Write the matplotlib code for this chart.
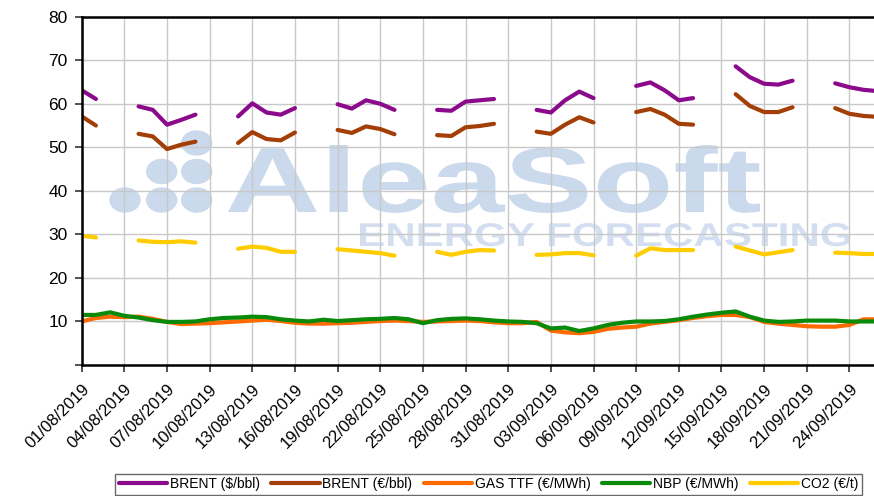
import numpy as np
import pandas as pd
import matplotlib
matplotlib.use("Agg")
import matplotlib.pyplot as plt
from matplotlib.patches import Ellipse, PathPatch
from matplotlib.textpath import TextPath
from matplotlib.font_manager import FontProperties
from matplotlib.transforms import Affine2D
from matplotlib.ticker import FuncFormatter

plt.rcParams['font.family'] = ['Liberation Sans', 'DejaVu Sans']

# datos diarios 01/08/2019 - 26/09/2019
dias = pd.date_range('2019-08-01', '2019-09-26', freq='D')
laborables = dias[dias.dayofweek < 5]

brent_usd = [63.1, 61.1, 59.4, 58.6, 55.2, 56.3, 57.5, 57.1, 60.1, 58.0, 57.5, 59.0,
             59.9, 58.9, 60.8, 60.0, 58.6, 58.6, 58.4, 60.5, 60.8, 61.1, 58.6, 58.0,
             60.8, 62.8, 61.3, 64.1, 64.9, 63.1, 60.8, 61.3, 68.6, 66.1, 64.6, 64.4,
             65.3, 64.7, 63.8, 63.2, 62.9]
brent_eur = [57.1, 55.0, 53.1, 52.5, 49.6, 50.6, 51.3, 51.0, 53.5, 51.9, 51.6, 53.4,
             54.0, 53.3, 54.8, 54.2, 53.0, 52.8, 52.6, 54.6, 54.9, 55.4, 53.6, 53.1,
             55.2, 56.9, 55.7, 58.1, 58.8, 57.5, 55.4, 55.2, 62.2, 59.5, 58.1, 58.1,
             59.2, 59.0, 57.7, 57.2, 57.0]
co2 = [29.7, 29.3, 28.6, 28.3, 28.2, 28.4, 28.1, 26.7, 27.2, 26.9, 26.0, 26.0,
       26.6, 26.3, 26.0, 25.7, 25.1, 26.0, 25.3, 26.0, 26.4, 26.3, 25.3, 25.4,
       25.7, 25.7, 25.2, 25.1, 26.8, 26.4, 26.4, 26.4, 27.2, 26.3, 25.4, 25.9,
       26.4, 25.8, 25.7, 25.5, 25.5]

gas_ttf = [10.0, 10.8, 11.1, 11.0, 11.1, 10.6, 9.9, 9.4, 9.5, 9.6, 9.8, 10.0, 10.2,
           10.4, 10.1, 9.7, 9.5, 9.5, 9.6, 9.7, 9.9, 10.1, 10.2, 10.1, 9.9, 10.0,
           10.1, 10.2, 10.1, 9.8, 9.6,
           9.6, 9.9, 7.9, 7.5, 7.3, 7.6, 8.3, 8.6, 8.8, 9.5, 9.9, 10.3, 10.8, 11.2,
           11.5, 11.5, 11.0, 9.9, 9.5, 9.2, 8.9, 8.8, 8.8, 9.2, 10.5, 10.5]
nbp = [11.5, 11.5, 12.1, 11.3, 10.9, 10.3, 9.9, 9.9, 10.0, 10.5, 10.8, 10.9, 11.1,
       11.0, 10.5, 10.2, 10.0, 10.4, 10.1, 10.3, 10.5, 10.6, 10.8, 10.5, 9.6, 10.3,
       10.6, 10.7, 10.5, 10.2, 10.0,
       9.9, 9.6, 8.4, 8.6, 7.8, 8.4, 9.2, 9.7, 10.0, 10.0, 10.1, 10.5, 11.1, 11.6,
       12.0, 12.3, 11.1, 10.2, 9.9, 10.0, 10.2, 10.2, 10.2, 10.0, 10.0, 10.0]

df = pd.DataFrame({'gas_ttf': gas_ttf, 'nbp': nbp}, index=dias)
df_lab = pd.DataFrame({'brent_usd': brent_usd, 'brent_eur': brent_eur, 'co2': co2},
                      index=laborables).reindex(dias)

W, H = 874, 496
fig = plt.figure(figsize=(W / 100, H / 100), dpi=100)


# marca de agua (texto ajustado a una caja en pixeles)
def marca(texto, x0, x1, ytop, ybase, color):
    fp = FontProperties(family='Liberation Sans', weight='bold')
    tp = TextPath((0, 0), texto, size=100, prop=fp)
    ext = tp.get_extents()
    sx = (x1 - x0) / ext.width
    sy = (ybase - ytop) / ext.y1
    tr = Affine2D().translate(-ext.x0, 0).scale(sx / W, sy / H).translate(x0 / W, 1 - ybase / H)
    fig.patches.append(PathPatch(tp, transform=tr + fig.transFigure,
                                 facecolor=color, edgecolor='none', zorder=-2))


wm = '#cbd9ec'
marca('AleaSoft', 228, 760, 145, 212, wm)
marca('ENERGY FORECASTING', 360, 850, 223, 246, '#d3dff0')
for cx, cy in [(196.7, 143), (161.7, 171.5), (196.7, 171.5),
               (125, 200), (161.7, 200), (196.7, 200)]:
    fig.patches.append(Ellipse((cx / W, 1 - cy / H), 30 / W, 24 / H,
                               transform=fig.transFigure, color=wm, zorder=-2))

ax = fig.add_axes([81.7 / W, 131 / H, 1 - 81.7 / W, 348.3 / H])
ax.patch.set_alpha(0)

estilo = dict(linewidth=3.0, solid_capstyle='round', solid_joinstyle='round')
ax.plot(df_lab.index, df_lab['brent_usd'], color='#8b0a8b', label=r'BRENT (\$/bbl)', **estilo)
ax.plot(df_lab.index, df_lab['brent_eur'], color='#a33f06', label='BRENT (€/bbl)', **estilo)
ax.plot(df.index, df['gas_ttf'], color='#ff6a00', label='GAS TTF (€/MWh)', **estilo)
ax.plot(df.index, df['nbp'], color='#0a8a0a', label='NBP (€/MWh)', **estilo)
ax.plot(df_lab.index, df_lab['co2'], color='#ffcc00', label='CO2 (€/t)', **estilo)

ax.set_ylim(0, 80)
ax.set_yticks(range(0, 81, 10))
ax.yaxis.set_major_formatter(FuncFormatter(lambda v, p: '' if v == 0 else f'{v:.0f}'))
ax.set_xlim(dias[0], dias[0] + pd.Timedelta(days=55.73))
ticks = pd.date_range('2019-08-01', '2019-09-24', freq='3D')
ax.set_xticks(ticks)
ax.set_xticklabels([t.strftime('%d/%m/%Y') for t in ticks], rotation=45,
                   ha='right', rotation_mode='anchor', fontsize=12)
ax.tick_params(axis='y', labelsize=12.5, length=5, width=1.2, color='#333333', pad=5)
ax.tick_params(axis='x', length=5, width=1.2, color='#333333', pad=7)

ax.grid(True, color='#c8c8c8', linewidth=1)
ax.set_axisbelow(True)
ax.spines['right'].set_visible(False)
for s in ['left', 'bottom', 'top']:
    ax.spines[s].set_linewidth(1.8)
    ax.spines[s].set_color('black')

fig.legend(loc='lower center', bbox_to_anchor=(0.559, 0.003), ncol=5, fontsize=10,
           frameon=True, fancybox=False, edgecolor='#444444', handlelength=3.5,
           columnspacing=0.8, handletextpad=0.2, borderpad=0.25, borderaxespad=0)

fig.savefig('out.png', dpi=100)
